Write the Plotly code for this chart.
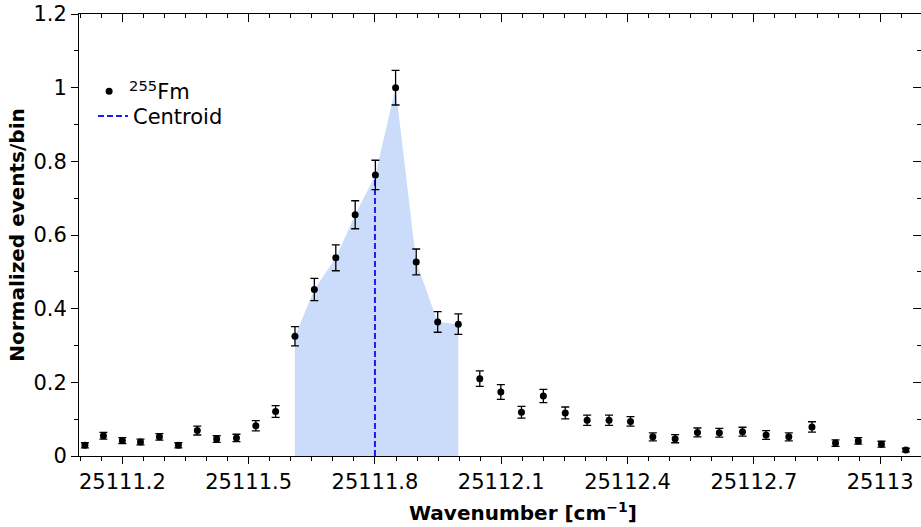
import numpy as np
import plotly.graph_objects as go

# Binned resonance scan of 255Fm
wavenumber = [
    25111.111, 25111.155, 25111.200, 25111.243, 25111.288, 25111.333, 25111.378, 25111.424,
    25111.471, 25111.517, 25111.564, 25111.610, 25111.656, 25111.707, 25111.753, 25111.801,
    25111.849, 25111.898, 25111.949, 25111.998, 25112.049, 25112.099, 25112.148, 25112.200,
    25112.252, 25112.304, 25112.356, 25112.407, 25112.460, 25112.513, 25112.566, 25112.618,
    25112.673, 25112.729, 25112.783, 25112.838, 25112.894, 25112.948, 25113.003, 25113.061,
]
events = [
    0.029, 0.055, 0.042, 0.038, 0.052, 0.029, 0.069, 0.046,
    0.049, 0.082, 0.121, 0.325, 0.452, 0.538, 0.655, 0.763,
    1.000, 0.527, 0.364, 0.358, 0.210, 0.174, 0.119, 0.163,
    0.117, 0.097, 0.097, 0.094, 0.052, 0.047, 0.064, 0.063,
    0.066, 0.057, 0.052, 0.079, 0.035, 0.041, 0.032, 0.016,
]
errors = [
    0.007, 0.009, 0.008, 0.008, 0.009, 0.007, 0.012, 0.009,
    0.010, 0.014, 0.016, 0.026, 0.030, 0.035, 0.038, 0.040,
    0.047, 0.035, 0.028, 0.028, 0.021, 0.020, 0.016, 0.018,
    0.016, 0.014, 0.014, 0.013, 0.011, 0.011, 0.012, 0.012,
    0.012, 0.012, 0.011, 0.014, 0.009, 0.009, 0.008, 0.005,
]
centroid = 25111.8
# bins belonging to the resonance window (shaded region)
peak_first, peak_last = 11, 19

x_arr = np.array(wavenumber)
y_arr = np.array(events)
x_peak = x_arr[peak_first:peak_last + 1]
y_peak = y_arr[peak_first:peak_last + 1]
centroid_height = float(np.interp(centroid, x_arr, y_arr))

FONT = "DejaVu Sans"

fig = go.Figure()

fig.add_trace(go.Scatter(
    x=x_peak, y=y_peak, mode="lines", line=dict(width=0),
    fill="tozeroy", fillcolor="#cbdcfa", showlegend=False, hoverinfo="skip",
))

fig.add_trace(go.Scatter(
    x=[centroid, centroid], y=[0, centroid_height], mode="lines",
    line=dict(color="#1a1aff", width=2, dash="6px,3px"),
    name="Centroid", legend="legend2",
))

fig.add_trace(go.Scatter(
    x=wavenumber, y=events, mode="markers",
    marker=dict(color="black", size=7),
    error_y=dict(type="data", array=errors, visible=True,
                 color="black", thickness=1.3, width=4),
    name="<sup>255</sup>Fm", legend="legend",
))

# invisible trace carrying the mirrored top/right axes
fig.add_trace(go.Scatter(
    x=[wavenumber[0]], y=[events[0]], xaxis="x2", yaxis="y2",
    mode="markers", marker=dict(opacity=0), showlegend=False, hoverinfo="skip",
))

x_range = [25111.097, 25113.097]
y_range = [0, 1.2]

legend_style = dict(
    xanchor="left", yanchor="top", bgcolor="rgba(0,0,0,0)",
    font=dict(family=FONT, size=21, color="black"), itemwidth=30,
)

fig.update_layout(
    width=921, height=527,
    margin=dict(l=79, r=0, t=14, b=71),
    paper_bgcolor="white", plot_bgcolor="white",
    font=dict(family=FONT, size=21, color="black"),
    showlegend=True,
    legend=dict(x=0.012, y=0.871, **legend_style),
    legend2=dict(x=0.0166, y=0.815, **legend_style),
    xaxis=dict(
        range=x_range, showgrid=False, zeroline=False,
        showline=True, linecolor="black", linewidth=1,
        ticks="outside", ticklen=7, tickcolor="black",
        tick0=25111.2, dtick=0.3, tickformat=".7~g",
        tickfont=dict(family=FONT, size=21),
        minor=dict(ticks="outside", ticklen=4, dtick=0.05, tick0=25111.2, tickcolor="black", showgrid=False),
    ),
    yaxis=dict(
        range=y_range, showgrid=False, zeroline=False,
        showline=True, linecolor="black", linewidth=1,
        ticks="outside", ticklen=7, tickcolor="black",
        tick0=0, dtick=0.2,
        tickfont=dict(family=FONT, size=21),
        minor=dict(ticks="outside", ticklen=4, dtick=0.1, tickcolor="black", showgrid=False),
        title=dict(text="Normalized events/bin",
                   font=dict(family=FONT, size=20, weight="bold"), standoff=3),
    ),
    xaxis2=dict(
        overlaying="x", matches="x", side="top", anchor="y2",
        showgrid=False, zeroline=False, showticklabels=False,
        showline=True, linecolor="black", linewidth=1,
        ticks="inside", ticklen=8, tickcolor="black",
        tick0=25111.2, dtick=0.3,
        minor=dict(ticks="inside", ticklen=4, dtick=0.05, tick0=25111.2, tickcolor="black", showgrid=False),
    ),
    yaxis2=dict(
        overlaying="y", matches="y", side="right", anchor="x2",
        showgrid=False, zeroline=False, showticklabels=False,
        showline=False,
        ticks="inside", ticklen=8, tickcolor="black",
        tick0=0, dtick=0.2,
        minor=dict(ticks="inside", ticklen=4, dtick=0.1, tickcolor="black", showgrid=False),
    ),
    annotations=[dict(
        text="Wavenumber [cm<sup>−1</sup>]", xref="paper", yref="paper",
        x=0.527, y=-0.127, xanchor="center", yanchor="middle", showarrow=False,
        font=dict(family=FONT, size=20, weight="bold", color="black"),
    )],
)

fig.write_html("out.html")
